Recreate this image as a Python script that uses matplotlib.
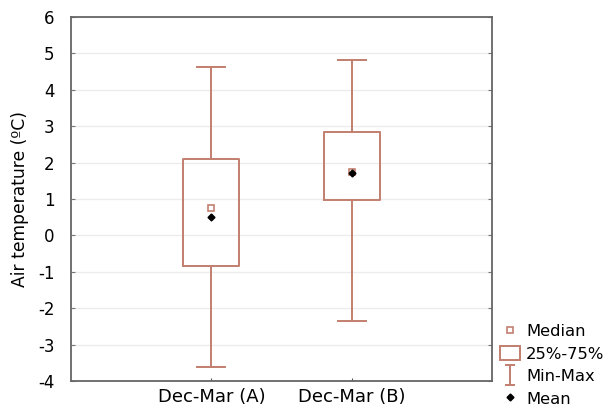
import matplotlib.pyplot as plt
from matplotlib.lines import Line2D
from matplotlib.patches import Patch
from matplotlib.path import Path

plt.rcParams["font.family"] = ["DejaVu Sans"]
plt.rcParams["axes.unicode_minus"] = False

categories = ["Dec-Mar (A)", "Dec-Mar (B)"]
minimum = [-3.62, -2.36]
q25 = [-0.84, 0.97]
median = [0.75, 1.73]
mean = [0.50, 1.72]
q75 = [2.10, 2.85]
maximum = [4.63, 4.83]

box_color = "#c27f6e"

fig = plt.figure(figsize=(6.13, 4.07), dpi=100)
ax = fig.add_axes([0.1158, 0.0639, 0.687, 0.8941])

stats = []
for i, name in enumerate(categories):
    stats.append(dict(label=name, whislo=minimum[i], q1=q25[i], med=median[i],
                      q3=q75[i], whishi=maximum[i], mean=mean[i], fliers=[]))

pos = list(range(len(categories)))
lw = 1.4
ax.bxp(stats, positions=pos, widths=0.4, showfliers=False, showmeans=False,
       boxprops=dict(color=box_color, linewidth=lw),
       whiskerprops=dict(color=box_color, linewidth=lw),
       capprops=dict(color=box_color, linewidth=lw),
       medianprops=dict(linewidth=0), capwidths=0.2)
ax.plot(pos, median, ls="none", marker="s", ms=5, mfc="white", mec=box_color,
        mew=1.2, zorder=4)
ax.plot(pos, mean, ls="none", marker="D", ms=3.5, color="black", zorder=5)

ax.set_xlim(-1, 2)
ax.set_ylim(-4, 6)
ax.set_yticks(range(-4, 7))
ax.set_xticks(pos)
ax.set_xticklabels(categories)
ax.tick_params(axis="x", labelsize=13, direction="in", length=2, colors="#555555",
               labelcolor="black", pad=5)
ax.tick_params(axis="y", labelsize=12, direction="in", length=3, colors="#777777",
               labelcolor="black", pad=12, right=True)
ax.grid(axis="y", color="#ececec", linewidth=1)
ax.set_axisbelow(True)
for sp in ax.spines.values():
    sp.set_color("#666666")
    sp.set_linewidth(1.3)
ax.set_ylabel("Air temperature (ºC)", fontsize=12.3, labelpad=6)

minmax = Path([(-0.5, 1), (0.5, 1), (0, 1), (0, -1), (-0.5, -1), (0.5, -1)],
              [Path.MOVETO, Path.LINETO, Path.MOVETO, Path.LINETO, Path.MOVETO, Path.LINETO])
handles = [
    Line2D([], [], ls="none", marker="s", ms=5, mfc="white", mec=box_color, mew=1.2),
    Patch(facecolor="white", edgecolor=box_color, linewidth=lw),
    Line2D([], [], ls="none", marker=minmax, ms=14, mfc="none", mec=box_color, mew=lw),
    Line2D([], [], ls="none", marker="D", ms=3.5, color="black"),
]
labels = ["Median", "25%-75%", "Min-Max", "Mean"]
fig.legend(handles, labels, loc="lower left", bbox_to_anchor=(0.805, -0.015),
           frameon=False, fontsize=11.8, handlelength=1.2, handletextpad=0.4,
           labelspacing=0.4, borderaxespad=0, handleheight=1.0)

fig.savefig("out.png", dpi=100)
